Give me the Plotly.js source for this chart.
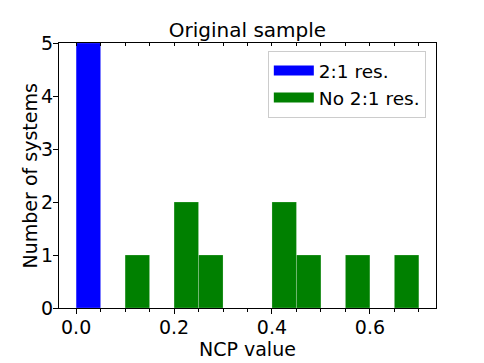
<!DOCTYPE html>
<html>
<head>
<meta charset="utf-8">
<script src="https://cdn.plot.ly/plotly-3.0.1.min.js"></script>
<style>
  html, body { margin: 0; padding: 0; background: #fff; }
  #chart { width: 484px; height: 363px; }
</style>
</head>
<body>
<div id="chart"></div>
<script>
// histogram bins, width 0.05
const binWidth = 0.05;
const resBinStarts = [0.0];
const resCounts = [5];
const noResBinStarts = [0.10, 0.20, 0.25, 0.40, 0.45, 0.55, 0.65];
const noResCounts = [1, 2, 1, 2, 1, 1, 1];
const seriesNames = ['2:1 res.', 'No 2:1 res.'];
const seriesColors = ['#0000ff', '#008000'];

const FONT = 'DejaVu Sans, sans-serif';

function barTrace(starts, counts, i) {
  return {
    type: 'bar',
    name: seriesNames[i],
    x: starts.map(s => s + binWidth / 2),
    y: counts,
    width: binWidth,
    showlegend: false,
    marker: { color: seriesColors[i], line: { color: 'rgba(255,255,255,0.35)', width: 0.6 } }
  };
}

// legend-only traces so the legend gets wide patches like matplotlib
function legendTrace(i) {
  return {
    type: 'scatter', mode: 'lines',
    name: seriesNames[i],
    x: [null], y: [null],
    line: { color: seriesColors[i], width: 13 },
    hoverinfo: 'skip'
  };
}

const traces = [
  barTrace(resBinStarts, resCounts, 0),
  barTrace(noResBinStarts, noResCounts, 1),
  legendTrace(0),
  legendTrace(1),
  // dummy trace to carry the top tick axis
  { type: 'scatter', x: [0], y: [0], xaxis: 'x2', mode: 'none', showlegend: false, hoverinfo: 'skip' }
];

const layout = {
  width: 484,
  height: 363,
  margin: { l: 59, r: 48, t: 43, b: 55 },
  paper_bgcolor: '#fff',
  plot_bgcolor: '#fff',
  font: { family: FONT, size: 19, color: '#000' },
  barmode: 'overlay',
  title: {
    text: 'Original sample',
    font: { family: FONT, size: 20, color: '#000' },
    x: 0.5, xref: 'paper', xanchor: 'center',
    y: 1, yref: 'paper', yanchor: 'bottom',
    pad: { b: 6 }
  },
  xaxis: {
    range: [-0.035, 0.735],
    tickvals: [0, 0.2, 0.4, 0.6],
    ticktext: ['0.0', '0.2', '0.4', '0.6'],
    ticks: 'outside', ticklen: 5, tickwidth: 1, tickcolor: '#000',
    ticklabelstandoff: -3,
    minor: { dtick: 0.05, tick0: 0, ticks: 'outside', ticklen: 3, tickcolor: '#000', tickwidth: 1 },
    showgrid: false, zeroline: false,
    showline: true, linecolor: '#000', linewidth: 1, mirror: true,
    tickfont: { size: 19 }
  },
  xaxis2: {
    overlaying: 'x',
    side: 'top',
    range: [-0.035, 0.735],
    tick0: 0, dtick: 0.05,
    ticks: 'inside', ticklen: 3, tickcolor: '#000', tickwidth: 1,
    showticklabels: false, showgrid: false, zeroline: false
  },
  yaxis: {
    range: [0, 5],
    dtick: 1,
    ticks: 'outside', ticklen: 5, tickwidth: 1, tickcolor: '#000',
    ticklabelstandoff: -4,
    showgrid: false, zeroline: false,
    showline: true, linecolor: '#000', linewidth: 1, mirror: true,
    tickfont: { size: 19 }
  },
  annotations: [
    {
      text: 'NCP value', xref: 'paper', yref: 'paper',
      x: 0.5, y: -0.155, xanchor: 'center', yanchor: 'middle',
      showarrow: false, font: { family: FONT, size: 19, color: '#000' }
    },
    {
      text: 'Number of systems', xref: 'paper', yref: 'paper',
      x: -0.077, y: 0.5, xanchor: 'center', yanchor: 'middle', textangle: -90,
      showarrow: false, font: { family: FONT, size: 19, color: '#000' }
    }
  ],
  legend: {
    x: 0.973, xanchor: 'right',
    y: 0.97, yanchor: 'top',
    bgcolor: 'rgba(255,255,255,0.8)',
    bordercolor: '#cccccc', borderwidth: 1,
    font: { family: FONT, size: 18.5, color: '#000' },
    itemwidth: 40,
    tracegroupgap: 4
  },
  showlegend: true
};

Plotly.newPlot('chart', traces, layout, { staticPlot: true, displayModeBar: false });
</script>
</body>
</html>
